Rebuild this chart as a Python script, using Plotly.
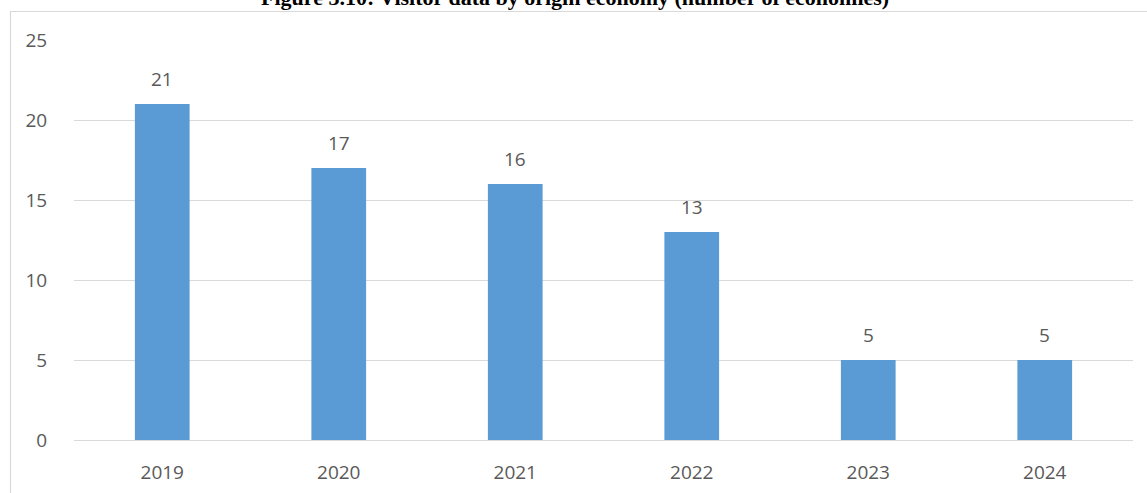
import plotly.graph_objects as go

# Number of origin economies reported per year
years = ["2019", "2020", "2021", "2022", "2023", "2024"]
economies = [21, 17, 16, 13, 5, 5]
y_ticks = [0, 5, 10, 15, 20, 25]

title_text = "Figure 3.10: Visitor data by origin economy (number of economies)"

W, H = 1147, 493
ML, MR, MT, MB = 74, 14, 40, 53
plot_w = W - ML - MR
plot_h = H - MT - MB

def px_to_paper_x(px):
    return (px - ML) / plot_w

def px_to_paper_y(py):
    return (H - MB - py) / plot_h

label_font = dict(family="Open Sans, Liberation Sans, sans-serif", size=19, color="#595959")

fig = go.Figure()
fig.add_trace(go.Bar(
    x=years,
    y=economies,
    marker=dict(color="#5B9BD5", line=dict(width=0)),
    width=0.31,
    hoverinfo="x+y",
))

# Value labels above each bar (category positions by index)
for i, v in enumerate(economies):
    fig.add_annotation(
        x=i, y=v, text=str(v), showarrow=False,
        yanchor="bottom", yshift=10, font=label_font,
    )

# Title, partly clipped by the top of the page
fig.add_annotation(
    xref="paper", yref="paper",
    x=px_to_paper_x(575), y=px_to_paper_y(-3),
    text="<b>" + title_text + "</b>", showarrow=False,
    xanchor="center", yanchor="middle",
    font=dict(family="Liberation Serif, Times New Roman, serif", size=22, color="#000000"),
)

# Chart-area border
fig.add_shape(
    type="rect", xref="paper", yref="paper",
    x0=px_to_paper_x(10.5), x1=px_to_paper_x(1160),
    y0=px_to_paper_y(520), y1=px_to_paper_y(11.5),
    line=dict(color="#D9D9D9", width=1.2), fillcolor="rgba(0,0,0,0)",
    layer="below",
)

fig.update_layout(
    width=W, height=H,
    margin=dict(l=ML, r=MR, t=MT, b=MB, autoexpand=False),
    paper_bgcolor="#FFFFFF",
    plot_bgcolor="#FFFFFF",
    showlegend=False,
    xaxis=dict(
        type="category",
        range=[-0.5, len(years) - 0.5],
        automargin=False,
        showgrid=False,
        showline=False,
        ticks="outside", ticklen=15, tickcolor="rgba(0,0,0,0)",
        tickfont=label_font,
        fixedrange=True,
    ),
    yaxis=dict(
        range=[0, 25],
        automargin=False,
        tickvals=y_ticks,
        ticktext=[str(t) for t in y_ticks],
        showgrid=True, gridcolor="#D9D9D9", gridwidth=1.3,
        zeroline=True, zerolinecolor="#D9D9D9", zerolinewidth=1.3,
        showline=False,
        ticks="outside", ticklen=22, tickcolor="rgba(0,0,0,0)",
        tickfont=label_font,
        fixedrange=True,
    ),
)

fig.write_html("out.html")
